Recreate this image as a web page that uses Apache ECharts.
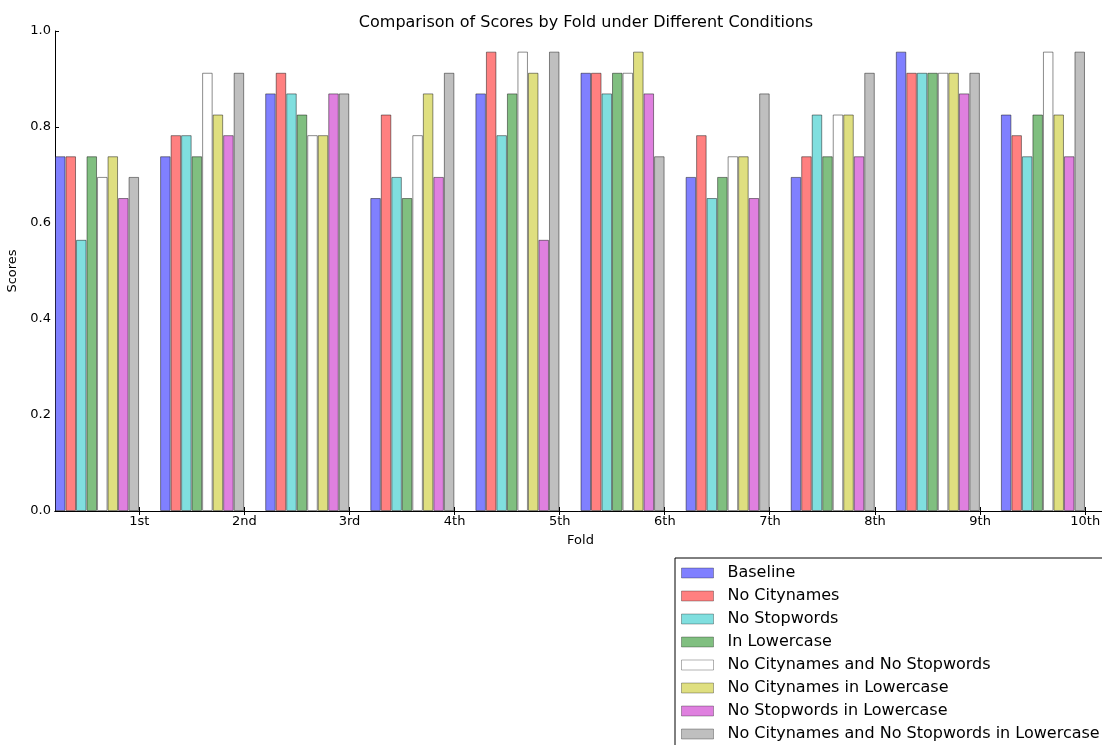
<!DOCTYPE html>
<html>
<head>
<meta charset="utf-8">
<script src="https://cdn.jsdelivr.net/npm/echarts@6/dist/echarts.min.js"></script>
<style>
  html, body { margin: 0; padding: 0; background: #fff; }
  #main { width: 1102px; height: 745px; }
</style>
</head>
<body>
<div id="main"></div>
<script>
// fold labels
const folds = ['1st', '2nd', '3rd', '4th', '5th', '6th', '7th', '8th', '9th', '10th'];
// scores per condition, one value per fold
const baseline        = [0.739, 0.739, 0.870, 0.652, 0.870, 0.913, 0.696, 0.696, 0.957, 0.826];
const noCitynames     = [0.739, 0.783, 0.913, 0.826, 0.957, 0.913, 0.783, 0.739, 0.913, 0.783];
const noStopwords     = [0.565, 0.783, 0.870, 0.696, 0.783, 0.870, 0.652, 0.826, 0.913, 0.739];
const inLowercase     = [0.739, 0.739, 0.826, 0.652, 0.870, 0.913, 0.696, 0.739, 0.913, 0.826];
const noCityNoStop    = [0.696, 0.913, 0.783, 0.783, 0.957, 0.913, 0.739, 0.826, 0.913, 0.957];
const noCityLower     = [0.739, 0.826, 0.783, 0.870, 0.913, 0.957, 0.739, 0.826, 0.913, 0.826];
const noStopLower     = [0.652, 0.783, 0.870, 0.696, 0.565, 0.870, 0.652, 0.739, 0.870, 0.739];
const noCityStopLower = [0.696, 0.913, 0.870, 0.913, 0.957, 0.739, 0.870, 0.913, 0.913, 0.957];
const yTicks = [0, 0.2, 0.4, 0.6, 0.8, 1.0];

const seriesNames = ['Baseline', 'No Citynames', 'No Stopwords', 'In Lowercase',
  'No Citynames and No Stopwords', 'No Citynames in Lowercase',
  'No Stopwords in Lowercase', 'No Citynames and No Stopwords in Lowercase'];
const seriesData = [baseline, noCitynames, noStopwords, inLowercase,
  noCityNoStop, noCityLower, noStopLower, noCityStopLower];
const colors = ['#8080ff', '#ff8080', '#80dfdf', '#80bf80', '#ffffff', '#dfdf80', '#df80df', '#bfbfbf'];

// each fold takes 10 slots of 0.1, bars sit in the first 8 slots
const SLOTS = 10;
const slotCats = [];
for (let i = 0; i < folds.length * SLOTS; i++) slotCats.push(i);
const isTick = (idx) => idx % SLOTS === 8;

const font = 'DejaVu Sans';
const myChart = echarts.init(document.getElementById('main'));

const xBase = {
  type: 'category',
  data: slotCats,
  boundaryGap: true,
  axisLine: { lineStyle: { color: '#000', width: 1 } },
  axisTick: { show: true, inside: true, length: 4, interval: (idx) => isTick(idx), lineStyle: { color: '#000' } },
  splitLine: { show: false }
};

myChart.setOption({
  animation: false,
  color: colors,
  textStyle: { fontFamily: font },
  title: {
    text: 'Comparison of Scores by Fold under Different Conditions',
    left: 581, top: 10, textAlign: 'center',
    textStyle: { fontFamily: font, fontSize: 16, fontWeight: 'normal', color: '#000' }
  },
  grid: { left: 55, top: 31, right: -4, bottom: 234, containLabel: false, outerBoundsMode: 'none' },
  legend: {
    orient: 'vertical',
    left: 675, top: 558, width: 500, height: 260,
    padding: [6, 10, 8, 6],
    borderColor: '#000', borderWidth: 1,
    itemWidth: 32, itemHeight: 10, itemGap: 5,
    icon: 'rect',
    itemStyle: { borderColor: 'rgba(0,0,0,0.3)', borderWidth: 1 },
    textStyle: { fontFamily: font, fontSize: 16, color: '#000', padding: [0, 0, 0, 9], lineHeight: 18 },
    data: seriesNames
  },
  xAxis: [
    Object.assign({}, xBase, {
      position: 'bottom',
      name: 'Fold', nameLocation: 'middle', nameGap: 23,
      nameTextStyle: { fontFamily: font, fontSize: 13, color: '#000' },
      axisLabel: {
        interval: (idx) => isTick(idx),
        formatter: (v) => folds[Math.floor(v / SLOTS)],
        padding: [0, 10, 0, 0],
        margin: 4,
        fontFamily: font, fontSize: 13, color: '#000'
      }
    }),
    Object.assign({}, xBase, { position: 'top', axisLabel: { show: false } })
  ],
  yAxis: [
    {
      type: 'value', min: 0, max: 1, interval: 0.2,
      name: 'Scores', nameLocation: 'middle', nameGap: 32,
      nameTextStyle: { fontFamily: font, fontSize: 13, color: '#000' },
      axisLine: { show: true, lineStyle: { color: '#000' } },
      axisTick: { show: true, inside: true, length: 4, lineStyle: { color: '#000' } },
      axisLabel: {
        customValues: yTicks,
        formatter: (v) => v.toFixed(1),
        margin: 4, fontFamily: font, fontSize: 13, color: '#000'
      },
      splitLine: { show: false }
    },
    {
      type: 'value', min: 0, max: 1, interval: 0.2, position: 'right',
      axisLine: { show: true, lineStyle: { color: '#000' } },
      axisTick: { show: true, inside: true, length: 4, lineStyle: { color: '#000' } },
      axisLabel: { show: false },
      splitLine: { show: false }
    }
  ],
  series: seriesNames.map((name, j) => ({
    name: name,
    type: 'bar',
    xAxisIndex: 0, yAxisIndex: 0,
    barWidth: '100%',
    barGap: '-100%',
    itemStyle: { color: colors[j], borderColor: 'rgba(0,0,0,0.45)', borderWidth: 1 },
    data: slotCats.map((k) => (k % SLOTS === j ? seriesData[j][Math.floor(k / SLOTS)] : null))
  }))
});
</script>
</body>
</html>
